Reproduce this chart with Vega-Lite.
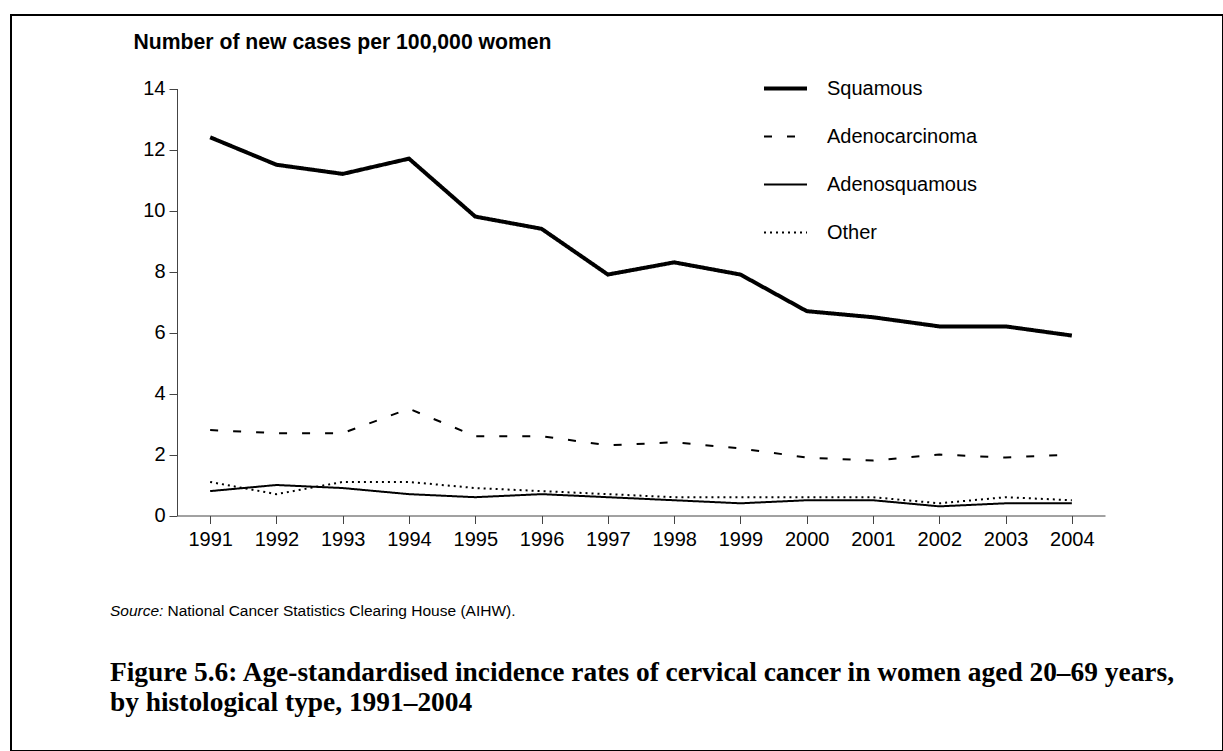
{
  "$schema": "https://vega.github.io/schema/vega-lite/v6.json",
  "width": 1212,
  "height": 736,
  "autosize": {"type": "none"},
  "padding": {"left": 11, "top": 15, "right": 0, "bottom": 0},
  "background": "white",
  "title": {
    "text": "Source:",
    "subtitle": ["Figure 5.6: Age-standardised incidence rates of cervical cancer in women aged 20–69 years,", "by histological type, 1991–2004"],
    "orient": "top",
    "anchor": "start",
    "frame": "group",
    "dx": 99,
    "dy": 701,
    "offset": 0,
    "font": "Liberation Sans",
    "fontSize": 15.5,
    "fontStyle": "italic",
    "fontWeight": "normal",
    "color": "black",
    "subtitleFont": "Liberation Serif",
    "subtitleFontSize": 27.4,
    "subtitleFontWeight": "bold",
    "subtitleColor": "black",
    "subtitleLineHeight": 30,
    "subtitlePadding": 39
  },
  "data": {
    "values": [
      {"year": 1991, "type": "Squamous", "value": 12.4},
      {"year": 1992, "type": "Squamous", "value": 11.5},
      {"year": 1993, "type": "Squamous", "value": 11.2},
      {"year": 1994, "type": "Squamous", "value": 11.7},
      {"year": 1995, "type": "Squamous", "value": 9.8},
      {"year": 1996, "type": "Squamous", "value": 9.4},
      {"year": 1997, "type": "Squamous", "value": 7.9},
      {"year": 1998, "type": "Squamous", "value": 8.3},
      {"year": 1999, "type": "Squamous", "value": 7.9},
      {"year": 2000, "type": "Squamous", "value": 6.7},
      {"year": 2001, "type": "Squamous", "value": 6.5},
      {"year": 2002, "type": "Squamous", "value": 6.2},
      {"year": 2003, "type": "Squamous", "value": 6.2},
      {"year": 2004, "type": "Squamous", "value": 5.9},
      {"year": 1991, "type": "Adenocarcinoma", "value": 2.8},
      {"year": 1992, "type": "Adenocarcinoma", "value": 2.7},
      {"year": 1993, "type": "Adenocarcinoma", "value": 2.7},
      {"year": 1994, "type": "Adenocarcinoma", "value": 3.5},
      {"year": 1995, "type": "Adenocarcinoma", "value": 2.6},
      {"year": 1996, "type": "Adenocarcinoma", "value": 2.6},
      {"year": 1997, "type": "Adenocarcinoma", "value": 2.3},
      {"year": 1998, "type": "Adenocarcinoma", "value": 2.4},
      {"year": 1999, "type": "Adenocarcinoma", "value": 2.2},
      {"year": 2000, "type": "Adenocarcinoma", "value": 1.9},
      {"year": 2001, "type": "Adenocarcinoma", "value": 1.8},
      {"year": 2002, "type": "Adenocarcinoma", "value": 2.0},
      {"year": 2003, "type": "Adenocarcinoma", "value": 1.9},
      {"year": 2004, "type": "Adenocarcinoma", "value": 2.0},
      {"year": 1991, "type": "Adenosquamous", "value": 0.8},
      {"year": 1992, "type": "Adenosquamous", "value": 1.0},
      {"year": 1993, "type": "Adenosquamous", "value": 0.9},
      {"year": 1994, "type": "Adenosquamous", "value": 0.7},
      {"year": 1995, "type": "Adenosquamous", "value": 0.6},
      {"year": 1996, "type": "Adenosquamous", "value": 0.7},
      {"year": 1997, "type": "Adenosquamous", "value": 0.6},
      {"year": 1998, "type": "Adenosquamous", "value": 0.5},
      {"year": 1999, "type": "Adenosquamous", "value": 0.4},
      {"year": 2000, "type": "Adenosquamous", "value": 0.5},
      {"year": 2001, "type": "Adenosquamous", "value": 0.5},
      {"year": 2002, "type": "Adenosquamous", "value": 0.3},
      {"year": 2003, "type": "Adenosquamous", "value": 0.4},
      {"year": 2004, "type": "Adenosquamous", "value": 0.4},
      {"year": 1991, "type": "Other", "value": 1.1},
      {"year": 1992, "type": "Other", "value": 0.7},
      {"year": 1993, "type": "Other", "value": 1.1},
      {"year": 1994, "type": "Other", "value": 1.1},
      {"year": 1995, "type": "Other", "value": 0.9},
      {"year": 1996, "type": "Other", "value": 0.8},
      {"year": 1997, "type": "Other", "value": 0.7},
      {"year": 1998, "type": "Other", "value": 0.6},
      {"year": 1999, "type": "Other", "value": 0.6},
      {"year": 2000, "type": "Other", "value": 0.6},
      {"year": 2001, "type": "Other", "value": 0.6},
      {"year": 2002, "type": "Other", "value": 0.4},
      {"year": 2003, "type": "Other", "value": 0.6},
      {"year": 2004, "type": "Other", "value": 0.5}
    ]
  },
  "mark": {"type": "line", "color": "black", "strokeCap": "butt", "strokeJoin": "miter"},
  "encoding": {
    "x": {
      "field": "year",
      "type": "ordinal",
      "scale": {"type": "point", "range": [166, 1094], "padding": 0.5},
      "axis": {
        "orient": "bottom",
        "offset": -235.5,
        "labelAngle": 0,
        "labelFont": "Liberation Sans",
        "labelFontSize": 20,
        "labelColor": "black",
        "labelPadding": 6,
        "tickSize": 8,
        "tickColor": "#444444",
        "domainColor": "#444444",
        "grid": false,
        "title": "National Cancer Statistics Clearing House (AIHW).",
        "titleX": 156,
        "titleY": 94.5,
        "titleAlign": "left",
        "titleBaseline": "middle",
        "titleFont": "Liberation Sans",
        "titleFontSize": 15.5,
        "titleFontWeight": "normal",
        "titleColor": "black"
      }
    },
    "y": {
      "field": "value",
      "type": "quantitative",
      "scale": {"domain": [0, 14], "range": [500.5, 73.5], "nice": false},
      "axis": {
        "orient": "left",
        "offset": -166,
        "values": [0, 2, 4, 6, 8, 10, 12, 14],
        "grid": false,
        "tickSize": 8,
        "tickColor": "#444444",
        "domainColor": "#444444",
        "labelFont": "Liberation Sans",
        "labelFontSize": 20,
        "labelColor": "black",
        "labelPadding": 4,
        "title": "Number of new cases per 100,000 women",
        "titleAngle": 0,
        "titleX": -44,
        "titleY": 27,
        "titleAlign": "left",
        "titleBaseline": "middle",
        "titleFont": "Liberation Sans",
        "titleFontSize": 21.2,
        "titleFontWeight": "bold",
        "titleColor": "black"
      }
    },
    "strokeDash": {
      "field": "type",
      "type": "nominal",
      "scale": {"domain": ["Squamous", "Adenocarcinoma", "Adenosquamous", "Other"], "range": [[1, 0], [8, 15], [1, 0], [2, 4]]},
      "legend": {"title": null}
    },
    "strokeWidth": {
      "field": "type",
      "type": "nominal",
      "scale": {"type": "ordinal", "domain": ["Squamous", "Adenocarcinoma", "Adenosquamous", "Other"], "range": [4, 2, 2, 2]},
      "legend": {"title": null}
    }
  },
  "config": {
    "view": {"stroke": "black", "strokeWidth": 2, "fill": "white"},
    "legend": {
      "orient": "none",
      "legendX": 751,
      "legendY": 50,
      "symbolType": "stroke",
      "symbolSize": 1849,
      "symbolStrokeColor": "black",
      "labelFont": "Liberation Sans",
      "labelFontSize": 20,
      "labelColor": "black",
      "labelOffset": 18,
      "rowPadding": 15,
      "padding": 0
    }
  }
}
